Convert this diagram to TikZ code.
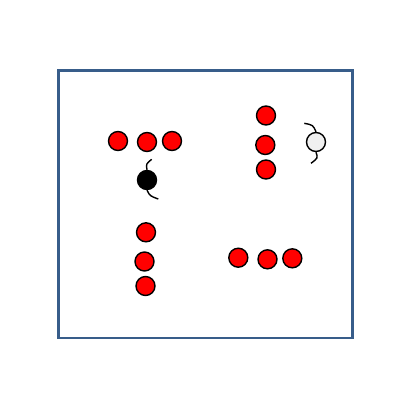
\documentclass[tikz,border=0pt]{standalone}
\definecolor{frameblue}{HTML}{385D8A}
\definecolor{lightgray}{HTML}{F0F0F0}
\tikzset{
  red dot/.style={circle, draw=black, fill=red, line width=1.4pt, minimum size=19pt, inner sep=0pt},
  black dot/.style={circle, draw=black, fill=black, line width=1.4pt, minimum size=19pt, inner sep=0pt},
  gray dot/.style={circle, draw=black, fill=lightgray, line width=1.4pt, minimum size=19pt, inner sep=0pt},
  tail/.style={line width=1.4pt, black},
  frame/.style={draw=frameblue, line width=2.4pt}
}
\begin{document}
\begin{tikzpicture}[x=1pt,y=-1pt]
\useasboundingbox (0,0) rectangle (418,408);
\draw[frame] (58.5,70.5) rectangle (352.3,338);
% top-left row
\node[red dot] (a1) at (118,141) {};
\node[red dot] (a2) at (147,142) {};
\node[red dot] (a3) at (172,141) {};
\node[black dot] (b) at (147,180) {};
\coordinate (bt) at (151.7,159.3);
\coordinate (bb) at (158.3,199);
\draw[tail] (bt) .. controls (146,164) .. (b.north);
\draw[tail] (b.south) .. controls (150,196) .. (bb);
% top-right column
\node[red dot] (c1) at (266,115.5) {};
\node[red dot] (c2) at (265.3,145) {};
\node[red dot] (c3) at (266,169.5) {};
\node[gray dot] (g) at (316,142) {};
\coordinate (gt) at (304.3,123.3);
\coordinate (gb) at (311,163.3);
\draw[tail] (gt) .. controls (313,125) .. (g.north);
\draw[tail] (g.south) .. controls (318,158) .. (gb);
% bottom-left column
\node[red dot] (d1) at (146,232.3) {};
\node[red dot] (d2) at (144.5,261.5) {};
\node[red dot] (d3) at (145.5,286) {};
% bottom-right row
\node[red dot] (e1) at (238.3,257.7) {};
\node[red dot] (e2) at (267.5,259.3) {};
\node[red dot] (e3) at (292.3,258.3) {};
\end{tikzpicture}
\end{document}
